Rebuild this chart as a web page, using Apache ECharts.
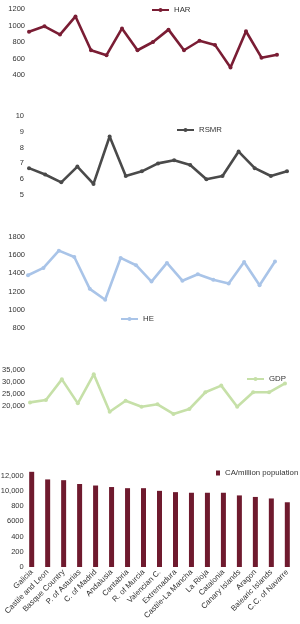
<!DOCTYPE html>
<html>
<head>
<meta charset="utf-8">
<script src="https://cdn.jsdelivr.net/npm/echarts/dist/echarts.min.js"></script>
<style>
html, body { margin: 0; padding: 0; background: #fff; }
#chart { width: 300px; height: 624px; }
</style>
</head>
<body>
<div id="chart"></div>
<script>
const regions = ["Galicia", "Castile and Leon", "Basque Country", "P. of Asturias", "C. of Madrid",
  "Andalusia", "Cantabria", "R. of Murcia", "Valencian C.", "Extremadura", "Castile-La Mancha",
  "La Rioja", "Catalonia", "Canary Islands", "Aragon", "Balearic Islands", "C.C. of Navarre"];

const har = [925, 990, 890, 1110, 700, 640, 965, 700, 800, 950, 700, 815, 765, 490, 930, 610, 645];
const rsmr = [6.7, 6.3, 5.8, 6.8, 5.7, 8.7, 6.2, 6.5, 7.0, 7.2, 6.9, 6.0, 6.2, 7.75, 6.7, 6.2, 6.5];
const he = [1380, 1460, 1650, 1580, 1230, 1110, 1570, 1490, 1310, 1515, 1320, 1390, 1330, 1290, 1525, 1270, 1530];
const gdp = [21500, 22500, 31100, 21100, 33200, 17600, 22200, 19700, 20700, 16700, 18750, 25700, 28500, 19700, 25700, 25700, 29400];
const caPerMillion = [12500, 11500, 11400, 10900, 10700, 10500, 10350, 10350, 10000, 9830, 9750, 9750, 9750, 9400, 9200, 9000, 8500];

// y tick labels exactly as printed on the original
const barTickValues = [0, 2000, 4000, 6000, 8000, 10000, 12000];
const barTickLabels = ["0", "200", "400", "6000", "800", "10,000", "12,000"];
const gdpTickValues = [20000, 25000, 30000, 35000];
const gdpTickLabels = ["20,000", "25,000", "30,000", "35,000"];

const font = "'Liberation Sans', Arial, sans-serif";
const textColor = "#333";

function plain(v) {
  return String(v);
}

function lineAxisY(grid, min, max, interval, margin, formatter) {
  return {
    type: "value",
    gridIndex: grid,
    min: min,
    max: max,
    interval: interval,
    axisLine: { show: false },
    axisTick: { show: false },
    splitLine: { show: false },
    axisLabel: {
      fontSize: 7.5,
      fontFamily: font,
      color: textColor,
      margin: margin,
      formatter: formatter || plain
    }
  };
}

function hiddenX(grid) {
  return {
    type: "category",
    gridIndex: grid,
    boundaryGap: false,
    data: regions,
    show: false
  };
}

function lineSeries(name, data, idx, color) {
  return {
    name: name,
    type: "line",
    xAxisIndex: idx,
    yAxisIndex: idx,
    data: data,
    symbol: "circle",
    symbolSize: 4,
    showSymbol: true,
    lineStyle: { color: color, width: 2.6 },
    itemStyle: { color: color },
    emphasis: { disabled: true }
  };
}

function legendAt(name, left, top, w, h, icon) {
  const lg = {
    data: [name],
    left: left,
    top: top,
    itemWidth: w,
    itemHeight: h,
    itemGap: 4,
    textStyle: { fontSize: 7.8, fontFamily: font, color: textColor }
  };
  if (icon) lg.icon = icon;
  return lg;
}

const colHar = "#7a1d34";
const colRsmr = "#4a4a4a";
const colHe = "#a9c4e8";
const colGdp = "#c6e0a8";
const colBar = "#6f1a2e";

const option = {
  animation: false,
  backgroundColor: "#fff",
  legend: [
    legendAt("HAR", 146, 1, 17, 5),
    legendAt("RSMR", 171, 121, 17, 5),
    legendAt("HE", 115, 310, 17, 5),
    legendAt("GDP", 241, 370, 17, 5),
    legendAt("CA/million population", 211, 464, 4, 5, "rect")
  ],
  grid: [
    { left: 29, right: 23, top: 9, height: 66, outerBoundsMode: "none" },
    { left: 29, right: 13, top: 116, height: 79, outerBoundsMode: "none" },
    { left: 28, right: 25, top: 237, height: 91, outerBoundsMode: "none" },
    { left: 30, right: 15, top: 370, height: 48, outerBoundsMode: "none" },
    { left: 23.7, right: 4.7, top: 468, height: 99, outerBoundsMode: "none" }
  ],
  xAxis: [
    hiddenX(0),
    hiddenX(1),
    hiddenX(2),
    hiddenX(3),
    {
      type: "category",
      gridIndex: 4,
      data: regions,
      axisLine: { show: false },
      axisTick: { show: false },
      axisLabel: {
        interval: 0,
        rotate: 45,
        fontSize: 7.8,
        fontFamily: font,
        color: textColor,
        margin: 4
      }
    }
  ],
  yAxis: [
    lineAxisY(0, 400, 1200, 200, 4),
    lineAxisY(1, 5, 10, 1, 5),
    lineAxisY(2, 800, 1800, 200, 3),
    lineAxisY(3, 15000, 35000, 5000, 5, function (v) {
      const i = gdpTickValues.indexOf(v);
      return i < 0 ? "" : gdpTickLabels[i];
    }),
    lineAxisY(4, 0, 13000, 2000, 0, function (v) {
      const i = barTickValues.indexOf(v);
      return i < 0 ? "" : barTickLabels[i];
    })
  ],
  series: [
    lineSeries("HAR", har, 0, colHar),
    lineSeries("RSMR", rsmr, 1, colRsmr),
    lineSeries("HE", he, 2, colHe),
    lineSeries("GDP", gdp, 3, colGdp),
    {
      name: "CA/million population",
      type: "bar",
      xAxisIndex: 4,
      yAxisIndex: 4,
      data: caPerMillion,
      barWidth: 5,
      itemStyle: { color: colBar },
      emphasis: { disabled: true }
    }
  ]
};

const myChart = echarts.init(document.getElementById("chart"), null, { renderer: "canvas" });
myChart.setOption(option);
</script>
</body>
</html>
